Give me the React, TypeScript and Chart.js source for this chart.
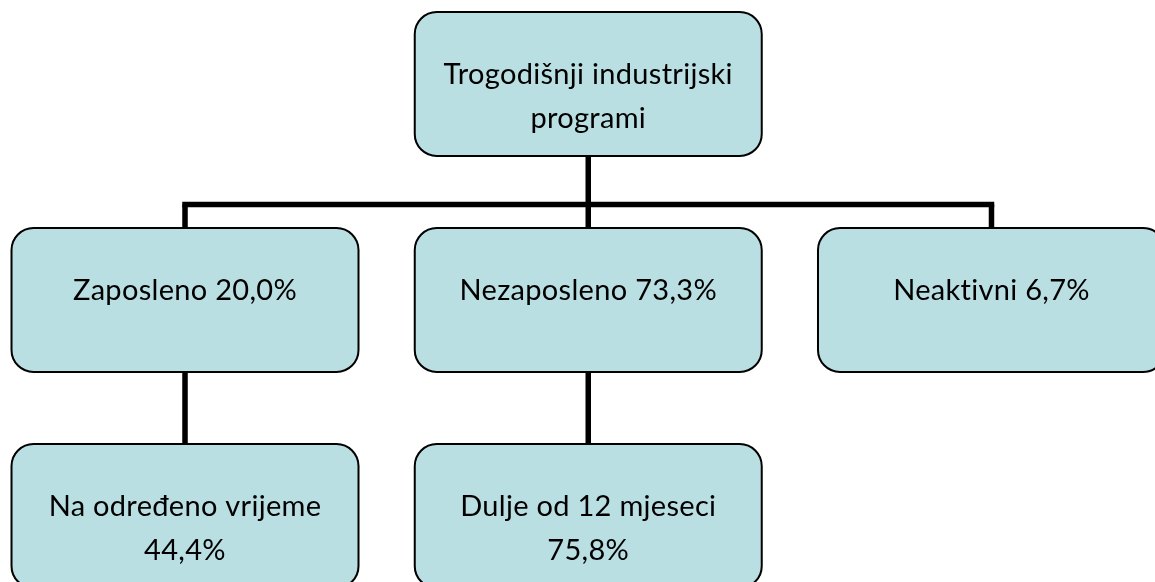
import React, { useEffect, useRef } from "react";
import { Chart, registerables } from "chart.js";

Chart.register(...registerables);

// ---- Data: org-chart nodes ----
const nodeLabels: string[][] = [
  ["Trogodišnji industrijski", "programi"],
  ["Zaposleno 20,0%"],
  ["Nezaposleno 73,3%"],
  ["Neaktivni 6,7%"],
  ["Na određeno vrijeme", "44,4%"],
  ["Dulje od 12 mjeseci", "75,8%"],
];
const nodeParents: number[] = [-1, 0, 0, 0, 1, 2];
const nodeLevels: number[] = [0, 1, 1, 1, 2, 2];
const nodeColumns: number[] = [1, 0, 1, 2, 0, 1];

// ---- Style ----
const BOX_FILL = "#B9DFE3";
const BOX_STROKE = "#000000";
const LINE_COLOR = "#000000";
const FONT_FAMILY = "Lato, 'Noto Sans', sans-serif";
const FONT_SIZE = 29;
const LINE_GAP = 44;

const BOX_W = 0.8605; // in column units
const BOX_H = 0.6667; // in level units
const BAR_OFFSET = 0.558; // horizontal connector below parent centre, level units

const orgPlugin = {
  id: "orgChart",
  afterDatasetsDraw(chart: any) {
    const ctx: CanvasRenderingContext2D = chart.ctx;
    const xs = chart.scales.x;
    const ys = chart.scales.y;
    const cx = (i: number) => xs.getPixelForValue(nodeColumns[i]);
    const cy = (i: number) => ys.getPixelForValue(nodeLevels[i]);
    const halfW = (i: number) =>
      Math.abs(xs.getPixelForValue(nodeColumns[i] + BOX_W / 2) - cx(i));
    const halfH = (i: number) =>
      Math.abs(ys.getPixelForValue(nodeLevels[i] + BOX_H / 2) - cy(i));

    ctx.save();
    // connectors
    ctx.strokeStyle = LINE_COLOR;
    ctx.lineWidth = 5.5;
    ctx.lineCap = "butt";
    nodeLabels.forEach((_, p) => {
      const kids = nodeParents
        .map((par, k) => (par === p ? k : -1))
        .filter((k) => k >= 0);
      if (!kids.length) return;
      const px = cx(p);
      const pBottom = cy(p) + halfH(p);
      if (kids.length === 1 && cx(kids[0]) === px) {
        ctx.beginPath();
        ctx.moveTo(px, pBottom);
        ctx.lineTo(px, cy(kids[0]) - halfH(kids[0]));
        ctx.stroke();
        return;
      }
      const barY = ys.getPixelForValue(nodeLevels[p] + BAR_OFFSET);
      ctx.beginPath();
      ctx.moveTo(px, pBottom);
      ctx.lineTo(px, barY);
      ctx.stroke();
      const kx = kids.map(cx);
      const minX = Math.min(...kx, px);
      const maxX = Math.max(...kx, px);
      ctx.beginPath();
      ctx.moveTo(minX - ctx.lineWidth / 2, barY);
      ctx.lineTo(maxX + ctx.lineWidth / 2, barY);
      ctx.stroke();
      kids.forEach((k) => {
        ctx.beginPath();
        ctx.moveTo(cx(k), barY);
        ctx.lineTo(cx(k), cy(k) - halfH(k));
        ctx.stroke();
      });
    });

    // boxes
    nodeLabels.forEach((lines, i) => {
      const x0 = cx(i) - halfW(i);
      const y0 = cy(i) - halfH(i);
      const w = halfW(i) * 2;
      const h = halfH(i) * 2;
      ctx.beginPath();
      (ctx as any).roundRect(x0, y0, w, h, 22);
      ctx.fillStyle = BOX_FILL;
      ctx.fill();
      ctx.lineWidth = 2;
      ctx.strokeStyle = BOX_STROKE;
      ctx.stroke();

      ctx.fillStyle = "#000000";
      ctx.font = `${FONT_SIZE}px ${FONT_FAMILY}`;
      (ctx as any).letterSpacing = "0.3px";
      ctx.textAlign = "center";
      ctx.textBaseline = "alphabetic";
      lines.forEach((t, li) => {
        ctx.fillText(t, cx(i), cy(i) + li * LINE_GAP);
      });
    });
    ctx.restore();
  },
};

export default function App() {
  const ref = useRef<HTMLCanvasElement | null>(null);
  useEffect(() => {
    if (!ref.current) return;
    const chart = new Chart(ref.current, {
      type: "scatter",
      data: {
        datasets: [
          {
            data: nodeLabels.map((_, i) => ({ x: nodeColumns[i], y: nodeLevels[i] })),
            pointRadius: 0,
            pointHoverRadius: 0,
          },
        ],
      },
      options: {
        animation: false,
        responsive: true,
        maintainAspectRatio: false,
        layout: { padding: 0 },
        events: [],
        plugins: { legend: { display: false }, tooltip: { enabled: false } },
        scales: {
          x: { type: "linear", display: false, min: -0.4588, max: 2.4055 },
          y: { type: "linear", display: false, min: -0.3889, max: 2.3056, reverse: true },
        },
      },
      plugins: [orgPlugin],
    });
    (document as any).fonts?.load(`${FONT_SIZE}px Lato`).then(() => chart.draw());
    return () => chart.destroy();
  }, []);
  return (
    <div style={{ position: "absolute", left: 0, top: 0, width: 1155, height: 582, background: "#fff" }}>
      <canvas ref={ref} />
    </div>
  );
}
